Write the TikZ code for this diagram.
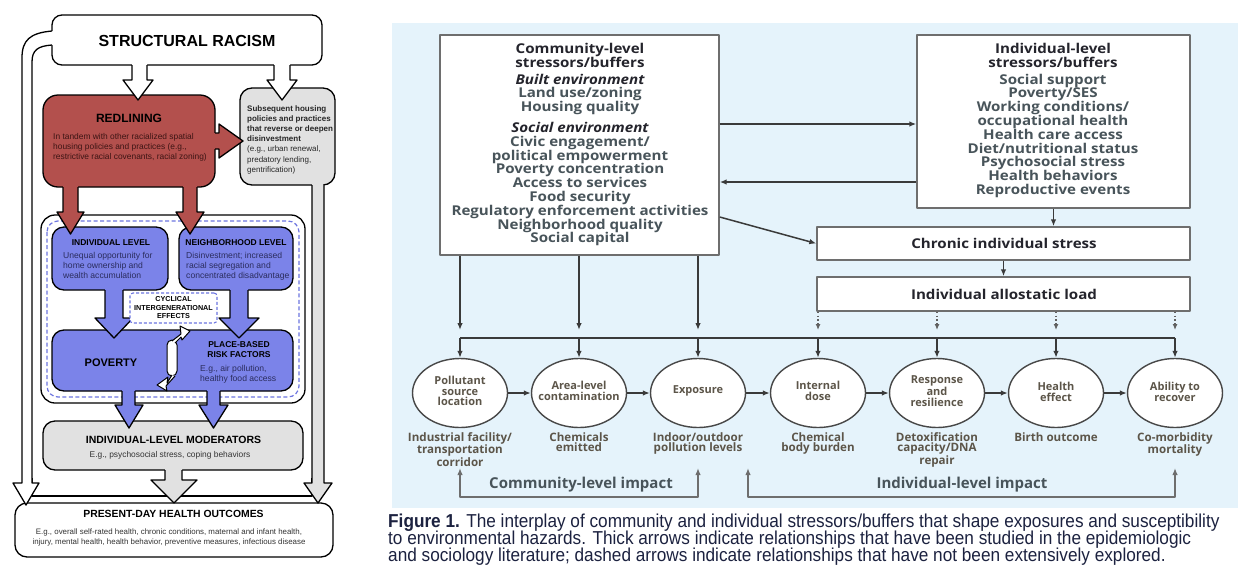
\documentclass[tikz,border=0pt]{standalone}
\usepackage{fontspec}
\setmainfont{Liberation Sans}
\newfontfamily\rf{Open Sans}
\newfontfamily\rfw[FakeStretch=1.12]{Open Sans}
\newfontfamily\capf[FakeStretch=0.92]{Liberation Sans}
\usetikzlibrary{shapes.geometric,arrows.meta}
\newcommand\myfs[2]{\fontsize{#1}{#2}\selectfont}
\definecolor{redl}{HTML}{B3504D}
\definecolor{bluel}{HTML}{7B83E9}
\definecolor{grayl}{HTML}{E1E1E1}
\definecolor{bgblue}{HTML}{E5F3FB}
\definecolor{rline}{HTML}{6E6E6E}
\definecolor{rarrow}{HTML}{3A3A3A}
\definecolor{rtitle}{HTML}{24242C}
\definecolor{ritem}{HTML}{48545A}
\definecolor{etext}{HTML}{5C5549}
\definecolor{capc}{HTML}{1C2240}
\definecolor{dashblue}{HTML}{6D75E0}
\definecolor{navy}{HTML}{2B2D5E}
\definecolor{redtext}{HTML}{3C1414}
\begin{document}
\begin{tikzpicture}[x=1pt,y=-1pt,line join=round,
  blk/.style={draw=black,line width=1.3pt},
  lt/.style={inner sep=0pt},
  rbox/.style={draw=rline,line width=1.4pt,fill=white,inner sep=0pt},
  ell/.style={ellipse,draw=black!72,line width=1.4pt,fill=white,minimum width=95pt,minimum height=69pt,inner sep=0pt},
  rtxt/.style={inner sep=0pt,align=center,text=ritem,font=\rfw\bfseries\myfs{13.5}{13.8}},
  etxt/.style={inner sep=0pt,align=center,text=etext,font=\rf\bfseries\myfs{11}{10.8}},
  ltxt/.style={inner sep=0pt,align=center,text=etext,font=\rf\bfseries\myfs{11.6}{10.8}},
  rar/.style={draw=rarrow,line width=1.5pt,-{Latex[length=7pt,width=5.5pt]}},
  dar/.style={draw=rarrow!80,line width=1.3pt,dash pattern=on 1.6pt off 2.2pt,-{Latex[length=6pt,width=5pt]}},
  gar/.style={draw=rline,line width=1.5pt,{Latex[length=7pt,width=5.5pt]}-{Latex[length=7pt,width=5.5pt]}},
  capt/.style={inner sep=0pt,text=capc,font=\capf\myfs{18.7}{17}},
]
\useasboundingbox (0,0) rectangle (1238,565);
\fill[white] (0,0) rectangle (1238,565);

%================ LEFT PANEL =================
% health outcomes
\draw[blk,fill=white,rounded corners=12pt] (15,503) rectangle (333,557);
% frame line joining the arms
\draw[line width=1.1pt] (32,478) -- (32,496) -- (312,496) -- (312,478);
% moderators
\draw[blk,fill=grayl,rounded corners=12pt] (43,421) rectangle (303,470);
\fill[grayl] (165,467) -- (182,467) -- (182,480) -- (197,480) -- (174,503) -- (151,480) -- (165,480) -- cycle;
\draw[blk] (165,470) -- (165,480) -- (151,480) -- (174,503) -- (197,480) -- (182,480) -- (182,470);
% blue region frame
\draw[blk,fill=white,rounded corners=14pt] (41,215) rectangle (305,403);
\draw[dashblue,line width=1.2pt,dash pattern=on 4pt off 2.5pt,rounded corners=11pt] (47,221) rectangle (299,397);
% poverty + place-based
\draw[blk,fill=bluel,rounded corners=12pt] (52,330) rectangle (293,391);
% cyclical divider
\draw[line width=1pt,fill=white,rounded corners=5pt] (167,340) rectangle (177,376);
\draw[line width=1pt,fill=white] (172,341) -- (181,334) -- (180,326) -- (190,331) -- (182,340) -- (181,337) -- (175,343);
\draw[line width=1pt,fill=white] (172,375) -- (167,383) -- (168,377) -- (157,385) -- (167,391) -- (166,386) -- (175,376);
% individual level
\draw[blk,fill=bluel,rounded corners=12pt] (52,227) rectangle (168,290);
\fill[bluel] (105,287) -- (123,287) -- (123,318) -- (133,318) -- (114,338) -- (95,318) -- (105,318) -- cycle;
\draw[blk] (105,290) -- (105,318) -- (95,318) -- (114,338) -- (133,318) -- (123,318) -- (123,290);
% neighborhood level
\draw[blk,fill=bluel,rounded corners=12pt] (179,227) rectangle (293,290);
\fill[bluel] (230,287) -- (248,287) -- (248,318) -- (259,318) -- (239,338) -- (219,318) -- (230,318) -- cycle;
\draw[blk] (230,290) -- (230,318) -- (219,318) -- (239,338) -- (259,318) -- (248,318) -- (248,290);
% blue arrows to moderators
\fill[bluel] (122,388) -- (135,388) -- (135,405) -- (143,405) -- (129,428) -- (115,405) -- (122,405) -- cycle;
\draw[blk] (122,391) -- (122,405) -- (115,405) -- (129,428) -- (143,405) -- (135,405) -- (135,391);
\fill[bluel] (207,388) -- (220,388) -- (220,405) -- (228,405) -- (213.5,428) -- (199,405) -- (207,405) -- cycle;
\draw[blk] (207,391) -- (207,405) -- (199,405) -- (213.5,428) -- (228,405) -- (220,405) -- (220,391);
% gray box with right arm
\draw[blk,fill=grayl,rounded corners=12pt] (240,88) rectangle (335,185);
\fill[grayl] (312,182) -- (324,182) -- (324,483) -- (332,483) -- (318,503) -- (304,483) -- (312,483) -- cycle;
\draw[blk] (312,185) -- (312,483) -- (304,483) -- (318,503) -- (332,483) -- (324,483) -- (324,184);
% red box
\draw[blk,fill=redl,rounded corners=15pt] (43,95) rectangle (215,187);
\fill[redl] (212,133) -- (219,133) -- (219,124) -- (243,141) -- (219,158) -- (219,149) -- (212,149) -- cycle;
\draw[blk] (215,133) -- (219,133) -- (219,124) -- (243,141) -- (219,158) -- (219,149) -- (215,149);
\fill[redl] (63,184) -- (78,184) -- (78,212) -- (84,212) -- (70.5,234) -- (57,212) -- (63,212) -- cycle;
\draw[blk] (63,187) -- (63,212) -- (57,212) -- (70.5,234) -- (84,212) -- (78,212) -- (78,187);
\fill[redl] (183,184) -- (197,184) -- (197,212) -- (204,212) -- (190,234) -- (176,212) -- (183,212) -- cycle;
\draw[blk] (183,187) -- (183,212) -- (176,212) -- (190,234) -- (204,212) -- (197,212) -- (197,187);
% structural racism
\draw[blk,fill=white,rounded corners=10pt] (52,15) rectangle (322,65);
\fill[white] (132,62) -- (147,62) -- (147,80) -- (153,80) -- (138,100) -- (123,80) -- (132,80) -- cycle;
\draw[blk] (132,65) -- (132,80) -- (123,80) -- (138,100) -- (153,80) -- (147,80) -- (147,65);
\fill[white] (274,62) -- (290,62) -- (290,80) -- (297,80) -- (282,100) -- (267,80) -- (274,80) -- cycle;
\draw[blk] (274,65) -- (274,80) -- (267,80) -- (282,100) -- (297,80) -- (290,80) -- (290,65);
\fill[white] (54,31) -- (52,31) .. controls (30,33) and (22,40) .. (22,58) -- (22,483) -- (13,483) -- (26,505) -- (39,483) -- (32,483) -- (32,62) .. controls (32,50) and (38,46) .. (52,45) -- (54,45) -- cycle;
\draw[blk] (52,31) .. controls (30,33) and (22,40) .. (22,58) -- (22,483) -- (13,483) -- (26,505) -- (39,483) -- (32,483) -- (32,62) .. controls (32,50) and (38,46) .. (52,45);

% left texts
\node[lt,font=\bfseries\myfs{16}{18}] (srt) at (187,41) {STRUCTURAL RACISM};
\node[lt,font=\bfseries\myfs{12}{14}] (rlt) at (129,118.5) {REDLINING};
\node[lt,anchor=north west,align=left,text=redtext,font=\myfs{8.4}{10}] (rlb) at (53,133.5) {In tandem with other racialized spatial\\housing policies and practices (e.g.,\\restrictive racial covenants, racial zoning)};
\node[lt,anchor=north west,align=left,text=black!85,font=\myfs{8}{10.2}] (sht) at (247,105) {\textbf{Subsequent housing}\\\textbf{policies and practices}\\\textbf{that reverse or deepen}\\\textbf{disinvestment}\\(e.g., urban renewal,\\predatory lending,\\gentrification)};
\node[lt,font=\bfseries\myfs{8.5}{10}] (ilt) at (111,243) {INDIVIDUAL LEVEL};
\node[lt,anchor=north west,align=left,text=navy,font=\myfs{8.6}{10}] (ilb) at (63,252.5) {Unequal opportunity for\\home ownership and\\wealth accumulation};
\node[lt,font=\bfseries\myfs{8.5}{10}] (nlt) at (236,243) {NEIGHBORHOOD LEVEL};
\node[lt,anchor=north west,align=left,text=navy,font=\myfs{8.6}{10}] (nlb) at (186,252.5) {Disinvestment; increased\\racial segregation and\\concentrated disadvantage};
\node[draw=dashblue,line width=1.1pt,dash pattern=on 3pt off 2pt,fill=white,rounded corners=3pt,minimum width=87pt,minimum height=30pt,inner sep=0pt,align=center,font=\bfseries\myfs{7.2}{8.5}] (cyc) at (173.5,308) {CYCLICAL\\INTERGENERATIONAL\\EFFECTS};
\node[lt,font=\bfseries\myfs{11}{13}] (pov) at (111,363) {POVERTY};
\node[lt,align=center,font=\bfseries\myfs{8.5}{10}] (pbt) at (239,350) {PLACE-BASED\\RISK FACTORS};
\node[lt,anchor=north west,align=left,text=navy,font=\myfs{8.6}{10}] (pbb) at (200,365.5) {E.g., air pollution,\\healthy food access};
\node[lt,font=\bfseries\myfs{10.5}{12}] (imt) at (173.5,440) {INDIVIDUAL-LEVEL MODERATORS};
\node[lt,text=black!80,font=\myfs{8.4}{10}] (imb) at (170,455.5) {E.g., psychosocial stress, coping behaviors};
\node[lt,font=\bfseries\myfs{10.4}{12}] (pht) at (173.5,514) {PRESENT-DAY HEALTH OUTCOMES};
\node[lt,align=center,text=black!80,font=\myfs{7.9}{10}] (phb) at (169,537.5) {E.g., overall self-rated health, chronic conditions, maternal and infant health,\\injury, mental health, health behavior, preventive measures, infectious disease};

%================ RIGHT PANEL =================
\fill[bgblue] (392,23) rectangle (1238,508);
\node[rbox,minimum width=279pt,minimum height=220pt] (comm) at (579.5,145) {};
\node[rbox,minimum width=273pt,minimum height=173pt] (ind) at (1053.5,121.5) {};
\node[rbox,minimum width=373pt,minimum height=33pt] (chr) at (1003.5,243.5) {};
\node[rbox,minimum width=373pt,minimum height=34pt] (allo) at (1003.5,294) {};

\node[rtxt,anchor=north] (commt) at (580,43) {\textcolor{rtitle}{Community-level}\\\textcolor{rtitle}{stressors/buffers}\\[3pt]
\textcolor{rtitle}{\itshape Built environment}\\Land use/zoning\\Housing quality\\[7pt]
\textcolor{rtitle}{\itshape Social environment}\\Civic engagement/\\political empowerment\\Poverty concentration\\Access to services\\Food security\\Regulatory enforcement activities\\Neighborhood quality\\Social capital};
\node[rtxt,anchor=north] (indt) at (1053,43) {\textcolor{rtitle}{Individual-level}\\\textcolor{rtitle}{stressors/buffers}\\[3pt]
Social support\\Poverty/SES\\Working conditions/\\occupational health\\Health care access\\Diet/nutritional status\\Psychosocial stress\\Health behaviors\\Reproductive events};
\node[rtxt,text=rtitle] (chrt) at (1004,243.5) {Chronic individual stress};
\node[rtxt,text=rtitle] (allot) at (1004,294) {Individual allostatic load};

% ellipses
\node[ell] (e1) at (460,393) {};
\node[ell] (e2) at (579,393) {};
\node[ell] (e3) at (698,393) {};
\node[ell] (e4) at (818,393) {};
\node[ell] (e5) at (937,393) {};
\node[ell] (e6) at (1056,393) {};
\node[ell] (e7) at (1175,393) {};
\node[etxt] (e1t) at (460,391) {Pollutant\\source\\location};
\node[etxt] (e2t) at (579,391) {Area-level\\contamination};
\node[etxt] (e3t) at (698,391) {Exposure};
\node[etxt] (e4t) at (818,391) {Internal\\dose};
\node[etxt] (e5t) at (937,391) {Response\\and\\resilience};
\node[etxt] (e6t) at (1056,391.5) {Health\\effect};
\node[etxt] (e7t) at (1175,391.5) {Ability to\\recover};
\node[ltxt,anchor=north] (l1) at (460,432) {Industrial facility/\\transportation\\corridor};
\node[ltxt,anchor=north] (l2) at (579,432) {Chemicals\\emitted};
\node[ltxt,anchor=north] (l3) at (698,432) {Indoor/outdoor\\pollution levels};
\node[ltxt,anchor=north] (l4) at (818,432) {Chemical\\body burden};
\node[ltxt,anchor=north] (l5) at (937,432) {Detoxification\\capacity/DNA\\repair};
\node[ltxt,anchor=north] (l6) at (1056,432) {Birth outcome};
\node[ltxt,anchor=north] (l7) at (1175,432) {Co-morbidity\\mortality};

% helper coordinates
\coordinate (h1) at (0,124);
\coordinate (h2) at (0,182);
\coordinate (h3) at (0,217);
\coordinate (arry) at (0,330);
\coordinate (busy) at (0,338);
\coordinate (topy) at (0,468);
\coordinate (boty) at (0,497);
\coordinate (ilx) at (748,0);

% connectors
\draw[rar] (comm.east |- h1) -- (ind.west |- h1);
\draw[rar] (ind.west |- h2) -- (comm.east |- h2);
\draw[rar] (comm.east |- h3) -- (chr.west);
\draw[rar] (ind.south) -- (ind.south |- chr.north);
\draw[rar] (chr.south) -- (allo.north);
\draw[rar] (comm.south -| e1) -- (e1 |- arry);
\draw[rar] (comm.south -| e2) -- (e2 |- arry);
\draw[rar] (comm.south -| e3) -- (e3 |- arry);
\draw[dar] (allo.south -| e4) -- (e4 |- arry);
\draw[dar] (allo.south -| e5) -- (e5 |- arry);
\draw[dar] (allo.south -| e6) -- (e6 |- arry);
\draw[dar] (allo.south -| e7) -- (e7 |- arry);
\draw[draw=rarrow,line width=1.5pt] (e1 |- busy) -- (e7 |- busy);
\foreach \e in {e1,e2,e3,e4,e5,e6,e7} \draw[rar] (\e |- busy) -- (\e.north);
\draw[rar] (e1) -- (e2);
\draw[rar] (e2) -- (e3);
\draw[rar] (e3) -- (e4);
\draw[rar] (e4) -- (e5);
\draw[rar] (e5) -- (e6);
\draw[rar] (e6) -- (e7);
\draw[gar] (e1 |- topy) -- (e1 |- boty) -- (e3 |- boty) -- (e3 |- topy);
\draw[gar] (ilx |- topy) -- (ilx |- boty) -- (e7 |- boty) -- (e7 |- topy);
\node[inner sep=0pt,text=ritem,font=\rf\bfseries\myfs{15}{16}] (cli) at (581,485) {Community-level impact};
\node[inner sep=0pt,text=ritem,font=\rf\bfseries\myfs{15}{16}] (ili) at (962,485) {Individual-level impact};

% caption
\begin{scope}
\clip (0,0) rectangle (1238,565);
\node[capt,anchor=base west] (cap1) at (388,527) {\textbf{Figure 1.} The interplay of community and individual stressors/buffers that shape exposures and susceptibility};
\node[capt,anchor=base west] (cap2) at (388,544) {to environmental hazards. Thick arrows indicate relationships that have been studied in the epidemiologic};
\node[capt,anchor=base west] (cap3) at (388,561) {and sociology literature; dashed arrows indicate relationships that have not been extensively explored.};
\end{scope}
\end{tikzpicture}
\end{document}
